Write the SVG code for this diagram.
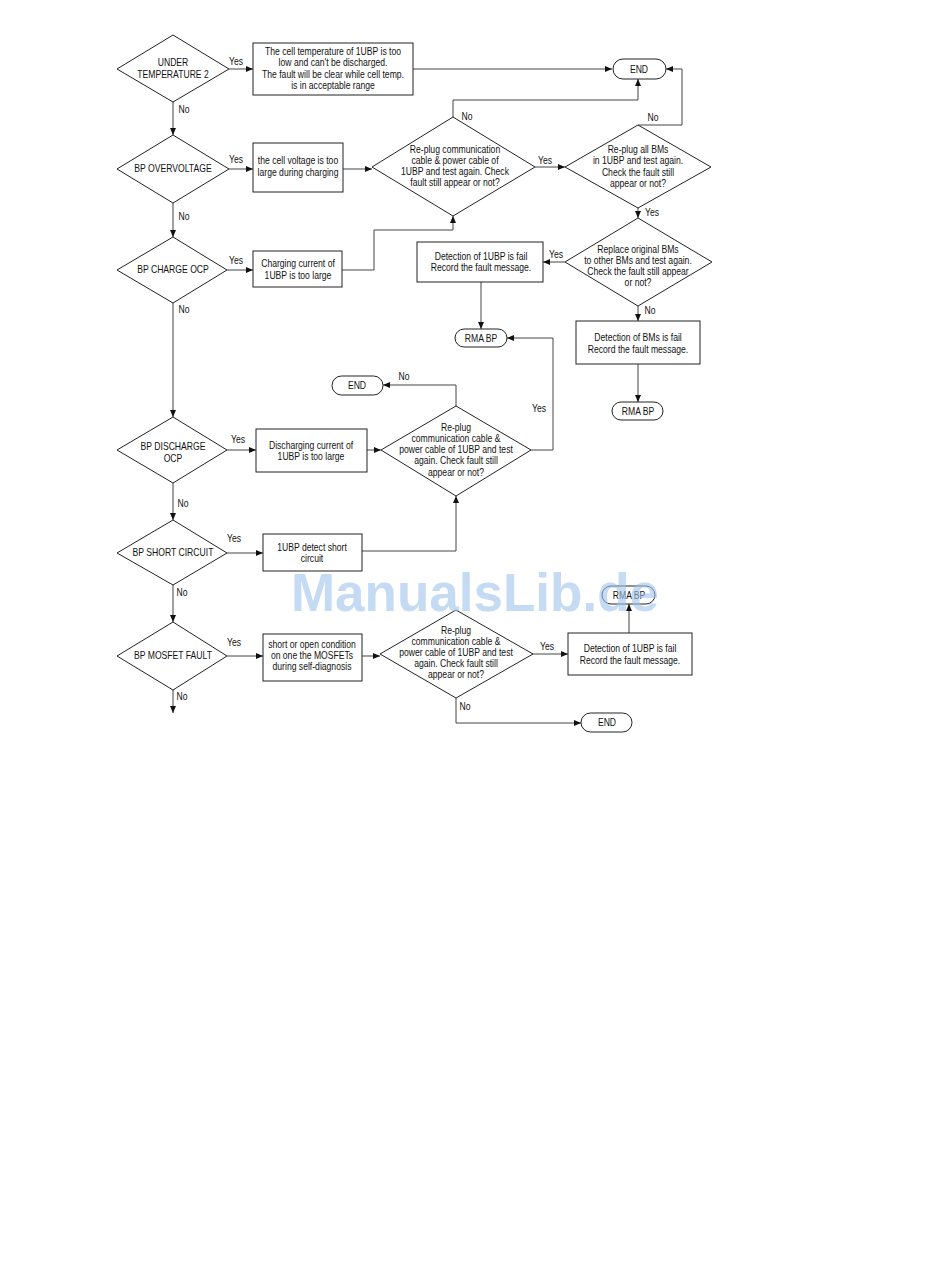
<svg xmlns="http://www.w3.org/2000/svg" width="950" height="1286" viewBox="0 0 950 1286">
<style>
  text { font-family: "Liberation Sans", Arial, sans-serif; font-size: 10.5px; fill: #111; text-anchor: middle; }
  .shape { fill: #fff; stroke: #222; stroke-width: 1; }
  .conn { fill: none; stroke: #444; stroke-width: 1; }
  .wm { font-family: "Liberation Sans", Arial, sans-serif; font-size: 53px; font-weight: bold; fill: #9fc3ec; opacity: 0.6; }
</style>
<defs>
  <marker id="arr" markerWidth="7" markerHeight="6" refX="7" refY="3" orient="auto" markerUnits="userSpaceOnUse">
    <path d="M0,0 L7,3 L0,6 z" fill="#111"/>
  </marker>
</defs>
<rect width="950" height="1286" fill="#fff"/>

<g id="connectors" class="conn" marker-end="url(#arr)">
  <path d="M229,69 H253"/>
  <path d="M413,69 H612"/>
  <path d="M173,102 V135"/>
  <path d="M229,169 H253"/>
  <path d="M343,169 H372"/>
  <path d="M453,117 V100 H638 V79"/>
  <path d="M535,167 H565"/>
  <path d="M638,125 H682 V69 H666"/>
  <path d="M638,208 V218"/>
  <path d="M565,262 H543"/>
  <path d="M481,282 V329"/>
  <path d="M638,306 V321"/>
  <path d="M638,364 V402"/>
  <path d="M173,203 V237"/>
  <path d="M227,270 H253"/>
  <path d="M342,270 H374 V230 H453 V216"/>
  <path d="M173,303 V417"/>
  <path d="M227,450 H256"/>
  <path d="M367,450 H381"/>
  <path d="M456,406 V385 H383"/>
  <path d="M531,450 H553 V338 H507"/>
  <path d="M173,483 V520"/>
  <path d="M227,553 H263"/>
  <path d="M362,551 H456 V496"/>
  <path d="M173,585 V622"/>
  <path d="M227,656 H263"/>
  <path d="M362,656 H380"/>
  <path d="M533,654 H568"/>
  <path d="M629,633 V604"/>
  <path d="M456,698 V723 H581"/>
  <path d="M173,690 V713"/>
</g>

<g id="labels">
  <text transform="translate(236,65) scale(.82,1)">Yes</text>
  <text transform="translate(184,113) scale(.82,1)">No</text>
  <text transform="translate(236,163) scale(.82,1)">Yes</text>
  <text transform="translate(184,220) scale(.82,1)">No</text>
  <text transform="translate(236,264) scale(.82,1)">Yes</text>
  <text transform="translate(184,313) scale(.82,1)">No</text>
  <text transform="translate(467,120) scale(.82,1)">No</text>
  <text transform="translate(545,164) scale(.82,1)">Yes</text>
  <text transform="translate(653,121) scale(.82,1)">No</text>
  <text transform="translate(652,216) scale(.82,1)">Yes</text>
  <text transform="translate(556,258) scale(.82,1)">Yes</text>
  <text transform="translate(650,314) scale(.82,1)">No</text>
  <text transform="translate(404,380) scale(.82,1)">No</text>
  <text transform="translate(539,412) scale(.82,1)">Yes</text>
  <text transform="translate(238,443) scale(.82,1)">Yes</text>
  <text transform="translate(183,507) scale(.82,1)">No</text>
  <text transform="translate(234,542) scale(.82,1)">Yes</text>
  <text transform="translate(182,596) scale(.82,1)">No</text>
  <text transform="translate(234,646) scale(.82,1)">Yes</text>
  <text transform="translate(182,700) scale(.82,1)">No</text>
  <text transform="translate(547,650) scale(.82,1)">Yes</text>
  <text transform="translate(465,710) scale(.82,1)">No</text>
</g>

<g id="under-temp">
  <polygon class="shape" points="117,69 173,35 229,69 173,102"/>
  <text transform="translate(173,66) scale(.82,1)">UNDER</text>
  <text transform="translate(173,78) scale(.82,1)">TEMPERATURE 2</text>
</g>
<g id="box-temp">
  <rect class="shape" x="253" y="43" width="160" height="52"/>
  <text transform="translate(333,55) scale(.82,1)">The cell temperature of 1UBP is too</text>
  <text transform="translate(333,66) scale(.82,1)">low and can't be discharged.</text>
  <text transform="translate(333,78) scale(.82,1)">The fault will be clear while cell temp.</text>
  <text transform="translate(333,89) scale(.82,1)">is in acceptable range</text>
</g>
<g id="end1">
  <rect class="shape" x="613" y="59" width="53" height="20" rx="10"/>
  <text transform="translate(639,73) scale(.82,1)">END</text>
</g>

<g id="overvoltage">
  <polygon class="shape" points="117,169 173,135 229,169 173,203"/>
  <text transform="translate(173,172) scale(.82,1)">BP OVERVOLTAGE</text>
</g>
<g id="box-voltage">
  <rect class="shape" x="253" y="143" width="90" height="49"/>
  <text transform="translate(298,164) scale(.82,1)">the cell voltage is too</text>
  <text transform="translate(298,176) scale(.82,1)">large during charging</text>
</g>
<g id="replug1">
  <polygon class="shape" points="372,167 453,117 535,167 453,216"/>
  <text transform="translate(455,153) scale(.82,1)">Re-plug communication</text>
  <text transform="translate(455,164) scale(.82,1)">cable &amp; power cable of</text>
  <text transform="translate(455,175) scale(.82,1)">1UBP and test again. Check</text>
  <text transform="translate(455,186) scale(.82,1)">fault still appear or not?</text>
</g>
<g id="replug-bms">
  <polygon class="shape" points="565,167 638,125 711,167 638,208"/>
  <text transform="translate(638,153) scale(.82,1)">Re-plug all BMs</text>
  <text transform="translate(638,164) scale(.82,1)">in 1UBP and test again.</text>
  <text transform="translate(638,176) scale(.82,1)">Check the fault still</text>
  <text transform="translate(638,187) scale(.82,1)">appear or not?</text>
</g>
<g id="replace-bms">
  <polygon class="shape" points="565,262 638,218 712,262 638,306"/>
  <text transform="translate(638,253) scale(.82,1)">Replace original BMs</text>
  <text transform="translate(638,264) scale(.82,1)">to other BMs and test again.</text>
  <text transform="translate(638,275) scale(.82,1)">Check the fault still appear</text>
  <text transform="translate(638,286) scale(.82,1)">or not?</text>
</g>
<g id="box-fail1">
  <rect class="shape" x="417" y="242" width="126" height="40"/>
  <text transform="translate(481,260) scale(.82,1)">Detection of 1UBP is fail</text>
  <text transform="translate(481,271) scale(.82,1)">Record the fault message.</text>
</g>
<g id="rma1">
  <rect class="shape" x="455" y="329" width="52" height="18" rx="9"/>
  <text transform="translate(481,342) scale(.82,1)">RMA BP</text>
</g>
<g id="box-bms-fail">
  <rect class="shape" x="576" y="321" width="124" height="43"/>
  <text transform="translate(638,341) scale(.82,1)">Detection of BMs is fail</text>
  <text transform="translate(638,353) scale(.82,1)">Record the fault message.</text>
</g>
<g id="rma2">
  <rect class="shape" x="612" y="402" width="51" height="18" rx="9"/>
  <text transform="translate(638,415) scale(.82,1)">RMA BP</text>
</g>

<g id="charge-ocp">
  <polygon class="shape" points="117,270 173,237 227,270 173,303"/>
  <text transform="translate(173,273) scale(.82,1)">BP CHARGE OCP</text>
</g>
<g id="box-charge">
  <rect class="shape" x="253" y="251" width="89" height="36"/>
  <text transform="translate(298,267) scale(.82,1)">Charging current of</text>
  <text transform="translate(298,279) scale(.82,1)">1UBP is too large</text>
</g>

<g id="discharge-ocp">
  <polygon class="shape" points="117,450 173,417 227,450 173,483"/>
  <text transform="translate(173,450) scale(.82,1)">BP DISCHARGE</text>
  <text transform="translate(173,462) scale(.82,1)">OCP</text>
</g>
<g id="box-discharge">
  <rect class="shape" x="256" y="429" width="111" height="43"/>
  <text transform="translate(311,449) scale(.82,1)">Discharging current of</text>
  <text transform="translate(311,460) scale(.82,1)">1UBP is too large</text>
</g>
<g id="replug2">
  <polygon class="shape" points="381,450 456,406 531,450 456,496"/>
  <text transform="translate(456,431) scale(.82,1)">Re-plug</text>
  <text transform="translate(456,442) scale(.82,1)">communication cable &amp;</text>
  <text transform="translate(456,453) scale(.82,1)">power cable of 1UBP and test</text>
  <text transform="translate(456,464) scale(.82,1)">again. Check fault still</text>
  <text transform="translate(456,476) scale(.82,1)">appear or not?</text>
</g>
<g id="end2">
  <rect class="shape" x="332" y="376" width="51" height="19" rx="9.5"/>
  <text transform="translate(357,389) scale(.82,1)">END</text>
</g>

<g id="short-circuit">
  <polygon class="shape" points="117,553 173,520 227,553 173,585"/>
  <text transform="translate(173,556) scale(.82,1)">BP SHORT CIRCUIT</text>
</g>
<g id="box-short">
  <rect class="shape" x="263" y="534" width="99" height="37"/>
  <text transform="translate(312,551) scale(.82,1)">1UBP detect short</text>
  <text transform="translate(312,562) scale(.82,1)">circuit</text>
</g>

<g id="mosfet-fault">
  <polygon class="shape" points="117,656 173,622 227,656 173,690"/>
  <text transform="translate(173,659) scale(.82,1)">BP MOSFET FAULT</text>
</g>
<g id="box-mosfet">
  <rect class="shape" x="263" y="634" width="99" height="47"/>
  <text transform="translate(312,648) scale(.82,1)">short or open condition</text>
  <text transform="translate(312,659) scale(.82,1)">on one the MOSFETs</text>
  <text transform="translate(312,670) scale(.82,1)">during self-diagnosis</text>
</g>
<g id="replug3">
  <polygon class="shape" points="380,654 456,610 533,654 456,698"/>
  <text transform="translate(456,634) scale(.82,1)">Re-plug</text>
  <text transform="translate(456,645) scale(.82,1)">communication cable &amp;</text>
  <text transform="translate(456,656) scale(.82,1)">power cable of 1UBP and test</text>
  <text transform="translate(456,667) scale(.82,1)">again. Check fault still</text>
  <text transform="translate(456,678) scale(.82,1)">appear or not?</text>
</g>
<g id="box-fail3">
  <rect class="shape" x="568" y="633" width="124" height="42"/>
  <text transform="translate(630,652) scale(.82,1)">Detection of 1UBP is fail</text>
  <text transform="translate(630,664) scale(.82,1)">Record the fault message.</text>
</g>
<g id="rma3">
  <rect class="shape" x="602" y="586" width="53" height="18" rx="9"/>
  <text transform="translate(629,599) scale(.82,1)">RMA BP</text>
</g>
<g id="end3">
  <rect class="shape" x="581" y="713" width="51" height="19" rx="9.5"/>
  <text transform="translate(607,726) scale(.82,1)">END</text>
</g>

<text class="wm" x="475" y="611">ManualsLib.de</text>
</svg>
